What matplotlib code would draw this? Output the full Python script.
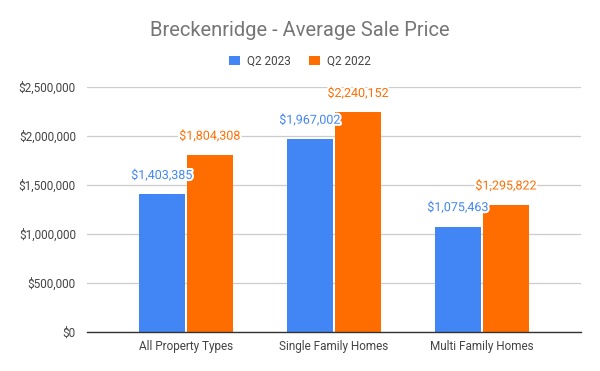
import matplotlib.pyplot as plt
import matplotlib.patheffects as pe
import numpy as np
from matplotlib.ticker import FuncFormatter

plt.rcParams['font.family'] = ['Roboto', 'DejaVu Sans']

categories = ["All Property Types", "Single Family Homes", "Multi Family Homes"]
q2_2023 = [1403385, 1967002, 1075463]
q2_2022 = [1804308, 2240152, 1295822]
yticks = [0, 500000, 1000000, 1500000, 2000000, 2500000]

blue = "#4285F4"
orange = "#FF6D01"

fig = plt.figure(figsize=(6, 3.71), dpi=100)
ax = fig.add_axes([87/600, 1 - 332/371, 494/600, 245/371])

x = np.arange(len(categories))
w = 0.311
gap = 0.007
b1 = ax.bar(x - w/2 - gap, q2_2023, w, color=blue, label="Q2 2023", zorder=3)
b2 = ax.bar(x + w/2 + gap, q2_2022, w, color=orange, label="Q2 2022", zorder=3)

stroke = [pe.withStroke(linewidth=3, foreground="white")]
for bars, vals, c in [(b1, q2_2023, blue), (b2, q2_2022, orange)]:
    for b, v in zip(bars, vals):
        ax.annotate(f"${v:,}", (b.get_x() + b.get_width()/2, v),
                    xytext=(0, 9), textcoords="offset points",
                    ha="center", va="bottom", color=c, fontsize=9,
                    path_effects=stroke, zorder=4)

ax.set_xlim(-0.669, 2.669)
ax.set_ylim(0, 2500000)
ax.set_yticks(yticks)
ax.yaxis.set_major_formatter(FuncFormatter(lambda v, p: f"${int(v):,}"))
ax.set_xticks(x)
ax.set_xticklabels(categories)
ax.tick_params(axis="both", length=0, labelsize=8.5, colors="#444444")
ax.tick_params(axis="y", pad=8)
ax.tick_params(axis="x", pad=6)
ax.grid(axis="y", color="#cccccc", linewidth=0.9, zorder=0)
for s in ["top", "right", "left"]:
    ax.spines[s].set_visible(False)
ax.spines["bottom"].set_color("#333333")
ax.spines["bottom"].set_linewidth(1.0)
ax.spines["bottom"].set_zorder(5)

fig.suptitle("Breckenridge - Average Sale Price", y=1 - 31/371, va="center",
             fontsize=14.5, color="#757575")
fig.legend(loc="center", bbox_to_anchor=(0.5, 1 - 61/371), ncol=2, frameon=False,
           fontsize=8.5, handlelength=0.9, handleheight=0.9, columnspacing=1.6,
           handletextpad=0.6, labelcolor="#444444")

fig.savefig("out.png", dpi=100)
